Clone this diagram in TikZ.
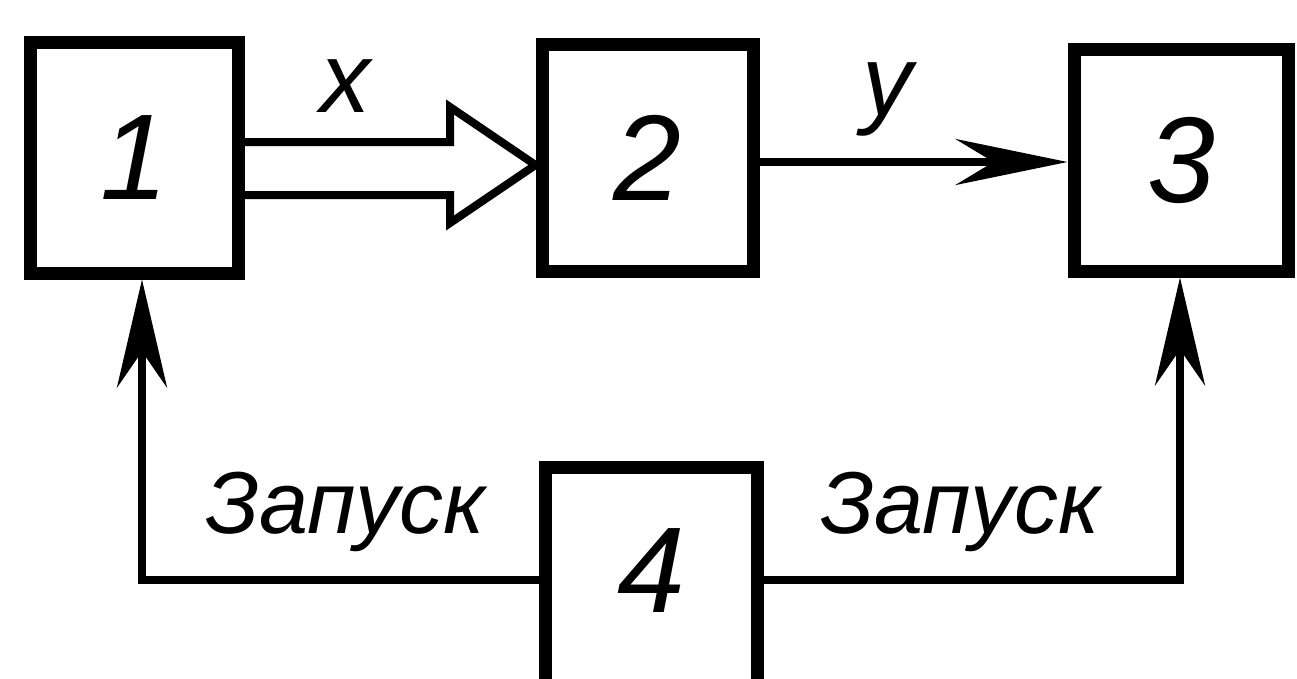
\documentclass[tikz,border=0pt]{standalone}
\usepackage{fontspec}
\setmainfont{Liberation Sans}
\usetikzlibrary{arrows.meta}
\begin{document}
\begin{tikzpicture}[x=1pt,y=-1pt,
  box/.style={draw, line width=13pt, rectangle, inner sep=0pt,
    font=\fontsize{122}{122}\selectfont\itshape},
  conn/.style={line width=8pt, line join=miter},
  vtip/.style={-{Stealth[length=108pt,width=50pt,inset=36pt]}},
  htip/.style={-{Stealth[length=112pt,width=46pt,inset=38pt]}},
  lbl/.style={font=\fontsize{100}{100}\selectfont\itshape, inner sep=0pt},
  zap/.style={font=\fontsize{88}{88}\selectfont\itshape, inner sep=0pt, anchor=base}]
\clip (0,0) rectangle (1297,678);
\node[box, minimum width=208pt, minimum height=231pt] (n1) at (134,157.5) {1};
\node[box, minimum width=211pt, minimum height=227pt] (n2) at (647.5,157.5) {2};
\node[box, minimum width=214pt, minimum height=222pt] (n3) at (1181,160) {3};
\node[box, minimum width=212pt, minimum height=233pt,
  label={[font=\fontsize{122}{122}\selectfont\itshape, yshift=13pt]center:4}] (n4) at (651,583.5) {};
% hollow double arrow 1 -> 2
\draw[conn] (n1.east |- 0,142) -- (450,142) -- (450,107) -- (n2.west |- 0,165)
  -- (450,223) -- (450,195) -- (n1.east |- 0,195);
% arrow 2 -> 3
\draw[conn, htip] (n2.east |- 0,162) -- (n3.west |- 0,162);
% start lines
\coordinate (cl) at (142,580);
\coordinate (cr) at (1180,580);
\draw[conn, vtip] (n4.west |- cl) -- (cl) -- (cl |- n1.south);
\draw[conn, vtip] (n4.east |- cr) -- (cr) -- (cr |- n3.south);
% labels
\node[lbl, anchor=base] (lx) at (345,112) {x};
\node[lbl, anchor=base] (ly) at (887,115) {y};
\node[zap] (zl) at (345,533) {Запуск};
\node[zap] (zr) at (960,533) {Запуск};
\end{tikzpicture}
\end{document}
